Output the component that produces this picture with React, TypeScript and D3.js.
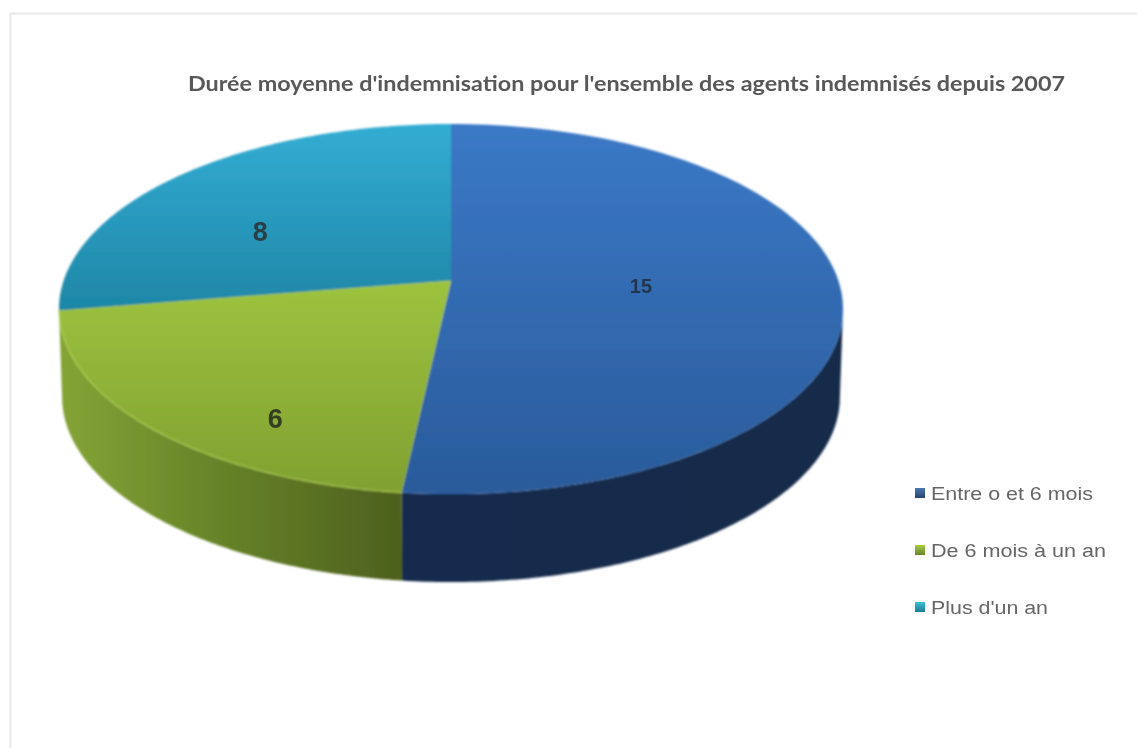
import React from "react";
import * as d3 from "d3";

const titleText = "Durée moyenne d'indemnisation pour l'ensemble des agents indemnisés depuis 2007";
const categories = ["Entre o et 6 mois", "De 6 mois à un an", "Plus d'un an"];
const values = [15, 6, 8];
const sliceIds = ["blue", "green", "teal"];
const labelFractions = [0.5, 0.33, 0.386];
const labelRadii = [0.489, 0.794, 0.587];
const labelSizes = [20, 27, 27];
const labelColors = ["#24364f", "#333d22", "#2a3f47"];
const legendWidths = [162, 175, 117];

const W = 1137;
const H = 748;
const apexX = 451;
const apexY = 281;
const scaleX = 387.5;
const scaleY = 180.8;
const persp = 0.1514;
const depth = 88;
const bottomShrink = 0.992;

// perspective projection of the unit disc
const project = (angle: number, r = 1, dy = 0, shrink = 1): [number, number] => {
  const X = r * Math.sin(angle);
  const Y = r * Math.cos(angle);
  const w = 1 + persp * Y;
  return [apexX + (shrink * scaleX * X) / w, apexY - (scaleY * Y) / w + dy];
};

const arcs = d3.pie<number>().sort(null).value((d) => d)(values);
const line = d3.line<[number, number]>();
const tau = Math.PI * 2;

const sample = (a0: number, a1: number, n = 120) =>
  d3.range(n + 1).map((i) => a0 + ((a1 - a0) * i) / n);

const topPath = (a0: number, a1: number) =>
  line([[apexX, apexY], ...sample(a0, a1).map((a) => project(a))])! + "Z";

const rimPath = (a0: number, a1: number) => {
  const top = sample(a0, a1).map((a) => project(a));
  const bottom = sample(a1, a0).map((a) => project(a, 1, depth, bottomShrink));
  return line([...top, ...bottom])! + "Z";
};

// silhouette tangents of the projected circle
const tangentRight = Math.acos(-persp);
const tangentLeft = tau - tangentRight;

const legendY = d3.scalePoint<string>().domain(categories).range([493, 607]);

const stops: Record<string, [string, string][]> = {
  topblue: [["0%", "#3b79c6"], ["100%", "#2a5b9b"]],
  topgreen: [["0%", "#9dc33f"], ["100%", "#80a031"]],
  topteal: [["0%", "#33add3"], ["100%", "#1e86a6"]],
  rimblue: [["0%", "#142c4e"], ["100%", "#142a49"]],
  rimgreen: [["0%", "#84a436"], ["45%", "#678429"], ["100%", "#4e5f1e"]],
  legblue: [["0%", "#4c78b0"], ["100%", "#27446f"]],
  leggreen: [["0%", "#a8cc48"], ["100%", "#66822a"]],
  legteal: [["0%", "#3cc0d8"], ["100%", "#1d7c90"]],
};

const Grad = ({ id, x1, y1, x2, y2 }: any) => (
  <linearGradient id={id} gradientUnits="userSpaceOnUse" x1={x1} y1={y1} x2={x2} y2={y2}>
    {stops[id].map(([o, c]) => (
      <stop key={o} offset={o} stopColor={c} />
    ))}
  </linearGradient>
);

export default function App() {
  const rims = [
    { id: "blue", a0: tangentRight, a1: arcs[0].endAngle },
    { id: "green", a0: arcs[1].startAngle, a1: Math.min(arcs[1].endAngle, tangentLeft) },
  ];
  return (
    <svg
      width={W}
      height={H}
      viewBox={`0 0 ${W} ${H}`}
      style={{ position: "absolute", left: 0, top: 0, background: "#fff" }}
    >
      <defs>
        <Grad id="topblue" x1={0} y1={124} x2={0} y2={494} />
        <Grad id="topgreen" x1={0} y1={282} x2={0} y2={494} />
        <Grad id="topteal" x1={0} y1={124} x2={0} y2={312} />
        <Grad id="rimblue" x1={403} y1={0} x2={843} y2={0} />
        <Grad id="rimgreen" x1={60} y1={0} x2={403} y2={0} />
        <Grad id="legblue" x1={0} y1={488} x2={0} y2={498} />
        <Grad id="leggreen" x1={0} y1={545} x2={0} y2={555} />
        <Grad id="legteal" x1={0} y1={602} x2={0} y2={612} />
        <filter id="soft" x="-5%" y="-5%" width="110%" height="110%">
          <feGaussianBlur stdDeviation="0.8" />
        </filter>
        <filter id="softer" x="-5%" y="-5%" width="110%" height="110%">
          <feGaussianBlur stdDeviation="0.55" />
        </filter>
      </defs>

      <path d={`M${W} 13.5H10.5V${H}`} fill="none" stroke="#e8e8e8" strokeWidth={2} />

      <g filter="url(#soft)">
        {rims.map((r) => (
          <path key={r.id} d={rimPath(r.a0, r.a1)} fill={`url(#rim${r.id})`} />
        ))}
        {arcs.map((a, i) => (
          <path key={i} d={topPath(a.startAngle, a.endAngle)} fill={`url(#top${sliceIds[i]})`} />
        ))}
        <path
          d={line(sample(arcs[1].startAngle, tangentLeft).map((a) => project(a)))!}
          fill="none"
          stroke="#b4d558"
          strokeOpacity={0.75}
          strokeWidth={1.2}
        />
        <path
          d={line([[apexX, apexY], project(arcs[1].endAngle)])!}
          fill="none"
          stroke="#a5cc42"
          strokeWidth={1.2}
        />
      </g>

      <g filter="url(#softer)">
        <text
          x={188}
          y={91}
          textLength={877}
          lengthAdjust="spacingAndGlyphs"
          fontFamily="Lato, 'Noto Sans', sans-serif"
          fontWeight={700}
          fontSize={21}
          fill="#595959"
        >
          {titleText}
        </text>

        {arcs.map((a, i) => {
          const mid = a.startAngle + (a.endAngle - a.startAngle) * labelFractions[i];
          const [x, y] = project(mid, labelRadii[i]);
          return (
            <text
              key={i}
              x={x}
              y={y}
              textAnchor="middle"
              dominantBaseline="central"
              fontFamily="'Liberation Sans', Arial, sans-serif"
              fontWeight={700}
              fontSize={labelSizes[i]}
              fill={labelColors[i]}
            >
              {values[i]}
            </text>
          );
        })}

        {categories.map((c, i) => {
          const y = legendY(c)!;
          return (
            <g key={c}>
              <rect x={915} y={y - 5} width={10} height={10} fill={`url(#leg${sliceIds[i]})`} />
              <text
                x={931}
                y={y + 6.5}
                textLength={legendWidths[i]}
                lengthAdjust="spacingAndGlyphs"
                fontFamily="'Liberation Sans', Arial, sans-serif"
                fontSize={18}
                fill="#666666"
              >
                {c}
              </text>
            </g>
          );
        })}
      </g>
    </svg>
  );
}
